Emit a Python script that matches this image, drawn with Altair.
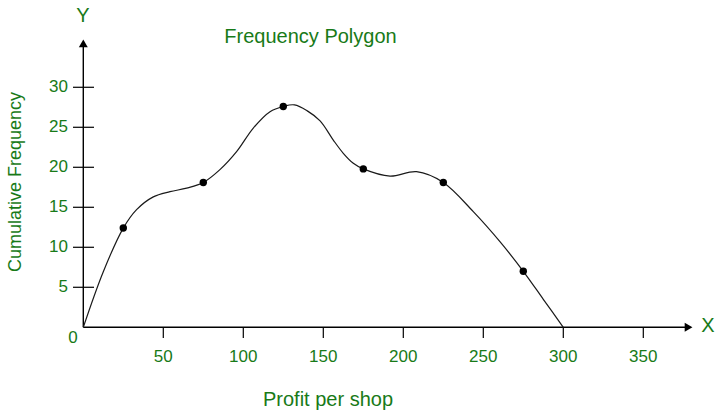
import altair as alt
import pandas as pd

# ---- data ----
class_mid = [25, 75, 125, 175, 225, 275]
cum_freq = [12.4, 18.1, 27.6, 19.8, 18.1, 7.0]

# smooth curve as drawn
curve_x = [0, 12.5, 25, 33.3, 43.75, 54.2, 64.6, 75, 85.4, 95.8, 106.25, 116.7,
           125, 132, 140, 148, 156.25, 162.5, 168.75, 175, 191.7, 208.3, 225,
           243.75, 260.4, 275, 287.5, 300]
curve_y = [0, 6.95, 12.4, 14.7, 16.3, 16.95, 17.4, 18.1, 19.7, 21.95, 24.9, 26.95,
           27.6, 27.8, 27.05, 25.8, 23.4, 21.75, 20.5, 19.8, 18.9, 19.45, 18.1,
           14.45, 10.7, 7.0, 3.5, 0]

x_ticks = [50, 100, 150, 200, 250, 300, 350]
y_ticks = [5, 10, 15, 20, 25, 30]
x_axis_end = 378.3
y_axis_end = 35.5

GREEN = "#187a18"
FONT = "Liberation Sans"

W, H = 727, 414
xs = alt.Scale(domain=[-52.06, 402.31], nice=False, zero=False)
ys = alt.Scale(domain=[-10.84, 40.91], nice=False, zero=False)

curve_df = pd.DataFrame({"x": curve_x, "y": curve_y})
pts_df = pd.DataFrame({"x": class_mid, "y": cum_freq})
xt_df = pd.DataFrame({"x": x_ticks, "label": [str(v) for v in x_ticks]})
yt_df = pd.DataFrame({"y": y_ticks, "label": [str(v) for v in y_ticks]})
xaxis_df = pd.DataFrame({"x": [0], "x2": [x_axis_end], "y": [0]})
yaxis_df = pd.DataFrame({"x": [0], "y": [0], "y2": [y_axis_end]})
xarrow_df = pd.DataFrame({"x": [x_axis_end], "y": [0]})
yarrow_df = pd.DataFrame({"x": [0], "y": [y_axis_end]})

X = lambda f="x": alt.X(f"{f}:Q", scale=xs, axis=None)
Y = lambda f="y": alt.Y(f"{f}:Q", scale=ys, axis=None)

xaxis = alt.Chart(xaxis_df).mark_rule(color="black", strokeWidth=1.4).encode(
    x=X(), x2="x2:Q", y=Y())
yaxis = alt.Chart(yaxis_df).mark_rule(color="black", strokeWidth=1.4).encode(
    x=X(), y=Y(), y2="y2:Q")

xarrow = alt.Chart(xarrow_df).mark_point(filled=True, color="black", size=80, opacity=1,
                                         shape="triangle-right").encode(x=X(), y=Y())
yarrow = alt.Chart(yarrow_df).mark_point(filled=True, color="black", size=80, opacity=1,
                                         shape="triangle-up").encode(x=X(), y=Y())

xtick = alt.Chart(xt_df).mark_rule(color="black", strokeWidth=1.2).encode(
    x=X(), y=alt.value(327), y2=alt.value(338))
ytick = alt.Chart(yt_df).mark_rule(color="black", strokeWidth=1.2).encode(
    y=Y(), x=alt.value(73), x2=alt.value(94))

xlab = alt.Chart(xt_df).mark_text(color=GREEN, font=FONT, fontSize=17, baseline="middle").encode(
    x=X(), y=alt.value(357), text="label:N")
ylab = alt.Chart(yt_df).mark_text(color=GREEN, font=FONT, fontSize=17, baseline="middle",
                                  align="right").encode(
    y=Y(), x=alt.value(68), text="label:N")

curve = alt.Chart(curve_df).mark_line(color="#1a1a1a", strokeWidth=1.2, interpolate="catmull-rom").encode(
    x=X(), y=Y())
dots = alt.Chart(pts_df).mark_circle(color="black", size=55, opacity=1).encode(
    x=X(), y=Y())


def label(text, x, y, size, angle=0):
    return alt.Chart(pd.DataFrame({"t": [text]})).mark_text(
        color=GREEN, font=FONT, fontSize=size, align="center", baseline="middle", angle=angle
    ).encode(text="t:N", x=alt.value(x), y=alt.value(y))


texts = [
    label("Frequency Polygon", 310.5, 36.5, 20),
    label("Profit per shop", 328, 399.5, 20),
    label("Cumulative Frequency", 16, 182, 18, 270),
    label("Y", 83, 16, 20),
    label("X", 708, 326, 20),
    label("0", 73, 338, 17),
]

chart = alt.layer(xaxis, yaxis, xarrow, yarrow, xtick, ytick, xlab, ylab, curve, dots, *texts).properties(
    width=W, height=H, padding=0, background="white",
    autosize=alt.AutoSizeParams(type="none")
).configure_view(stroke=None)

chart.save("out.html", embed_options={"renderer": "svg", "actions": False})
